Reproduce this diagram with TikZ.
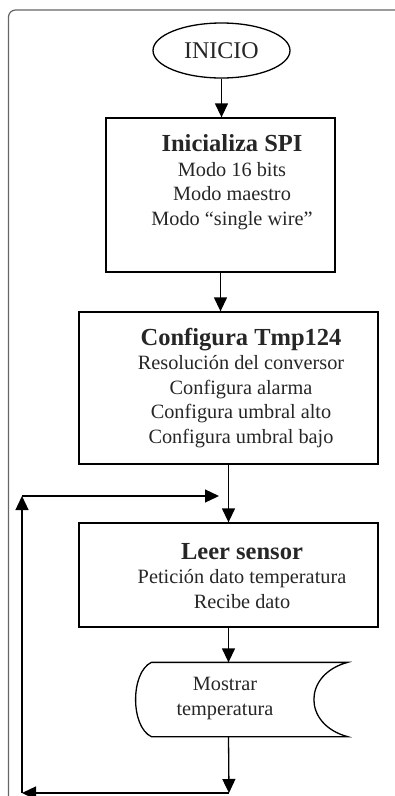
\documentclass[tikz,border=0pt]{standalone}
\usepackage{fontspec}
\setmainfont{Liberation Serif}
\usetikzlibrary{calc,positioning,arrows.meta,shapes.geometric}
\newcommand{\boxtitle}[1]{{\fontsize{24.5}{25}\selectfont\bfseries #1}}

\begin{document}
\begin{tikzpicture}
        [x=1pt,y=-1pt,line width=1.3pt,
         >={Triangle[length=14pt,width=13pt]},
         proc/.style={draw, inner sep=0pt},
         txt/.style={align=center, inner sep=0pt, text=black!85,
           font=\fontsize{20.3}{24.5}\selectfont}]
        \useasboundingbox (0,0) rectangle (395,796);
        % window frame
        \draw[gray!80!black, line width=1.2pt, rounded corners=7pt] (8.5,810) -- (8.5,10) -- (410,10);
        \node[proc, ellipse, minimum width=137pt, minimum height=55pt, txt, font=\fontsize{24}{25}\selectfont] (inicio) at (221.5,50.5) {INICIO};
        \node[proc, minimum width=229pt, minimum height=154pt] (spi) at (220.5,195) {};
        \node[txt] (spitxt) at (232,182) {\boxtitle{Inicializa SPI}\\Modo 16 bits\\Modo maestro\\Modo “single wire”};
        \node[proc, minimum width=299pt, minimum height=152pt] (tmp) at (228.5,388) {};
        \node[txt] (tmptxt) at (241,388) {\boxtitle{Configura Tmp124}\\Resolución del conversor\\Configura alarma\\Configura umbral alto\\Configura umbral bajo};
        \node[proc, minimum width=299pt, minimum height=104pt] (leer) at (228.5,575) {};
        \node[txt] (leertxt) at (242,576) {\boxtitle{Leer sensor}\\Petición dato temperatura\\Recibe dato};
        \node[minimum width=211pt, minimum height=73pt, inner sep=0pt] (disp) at (241.5,699.5) {};
        \node[txt] (disptxt) at (225,698.5) {Mostrar\\temperatura};
        \draw ($(disp.north west)+(16,0)$) -- (disp.north east)
          .. controls ($(disp.north east)+(-45,12)$) and ($(disp.south east)+(-45,-12)$) .. (disp.south east)
          -- ($(disp.south west)+(16,0)$)
          .. controls ($(disp.south west)+(-5,-10)$) and ($(disp.north west)+(-5,10)$) .. ($(disp.north west)+(16,0)$);
        \coordinate (lpbot) at (229,793);
        \coordinate (lpcorner) at (22,793);
        \coordinate (lptop) at (22,496);
        \coordinate (lpend) at (219,496);
        \draw[->] (inicio.south) -- (inicio.south |- spi.north);
        \draw[->] (spi.south) -- (spi.south |- tmp.north);
        \draw[->] (tmp.south) -- (leer.north);
        \draw[->] (leer.south) -- (leer.south |- disp.north);
        \draw[->] (leer.south |- disp.south) -- (lpbot);
        \draw[->] (lpbot) -- (lpcorner);
        \draw[->] (lpcorner) -- (lptop);
        \draw[->] (lptop) -- (lpend);
      \end{tikzpicture}
\end{document}
